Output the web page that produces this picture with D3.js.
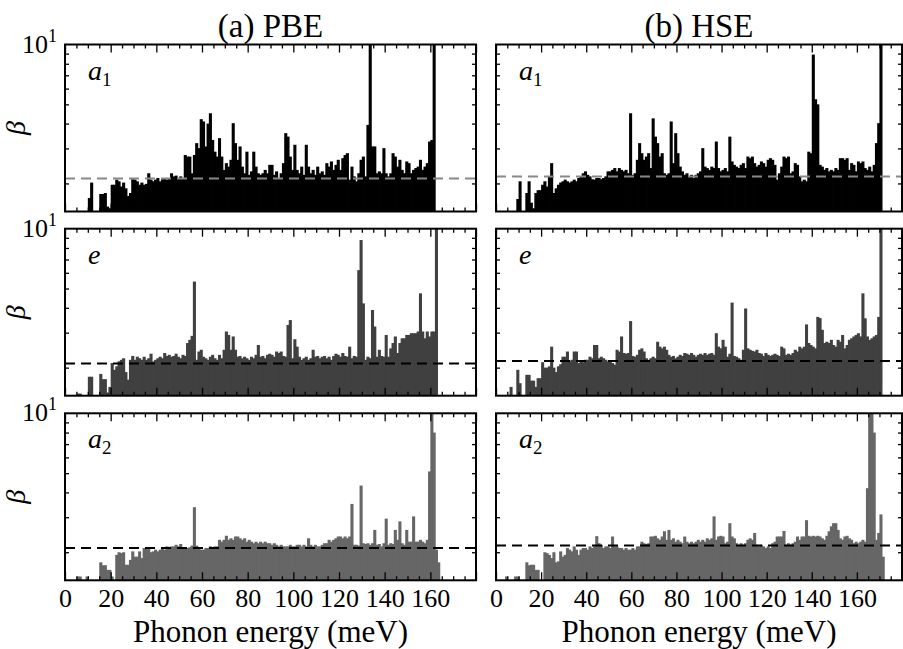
<!DOCTYPE html>
<html>
<head>
<meta charset="utf-8">
<script src="https://cdn.jsdelivr.net/npm/d3@7"></script>
<style>
  body { margin: 0; background: #fff; }
  svg { display: block; }
  svg text { font-family: "Liberation Serif", "DejaVu Serif", "Noto Serif", serif; }
</style>
</head>
<body>
<svg id="chart" width="903" height="649"></svg>
<script>
// Phonon energy bins are 1 meV wide, each series starts at the given energy
const binWidth = 1;
const serifFont = '"Liberation Serif", "DejaVu Serif", serif';

// (a) PBE
const pbeA1Start = 10;
const pbeA1 = [
  1.69, 2.02, 0, 0, 0, 1.77, 1.77, 1.79, 1.53, 1.50,
  1.97, 1.97, 2.09, 2.05, 1.93, 2.02, 1.89, 1.73, 1.79, 2.10,
  2.09, 2.05, 1.97, 2.02, 1.97, 1.99, 2.25, 2.09, 2.05, 2.09,
  2.13, 2.05, 2.10, 2.13, 2.09, 2.13, 2.25, 2.17, 2.19, 2.13,
  2.17, 2.13, 2.78, 2.73, 2.73, 2.25, 2.78, 3.19, 3.01, 4.21,
  4.10, 3.07, 4.00, 4.51, 3.31, 2.89, 2.73, 3.38, 2.73, 2.34,
  2.53, 2.43, 2.63, 4.02, 3.19, 2.63, 3.07, 2.43, 2.25, 2.89,
  2.21, 2.30, 2.89, 2.43, 2.25, 2.21, 2.25, 2.34, 2.25, 2.48,
  2.48, 2.21, 2.30, 2.13, 2.25, 2.53, 3.58, 3.44, 2.73, 2.34,
  3.13, 2.34, 2.25, 2.43, 2.21, 3.13, 2.43, 2.25, 2.34, 2.21,
  2.43, 2.25, 2.30, 2.21, 2.53, 2.43, 2.58, 2.34, 2.48, 2.63,
  2.34, 2.68, 2.78, 2.84, 2.09, 2.43, 2.17, 2.05, 2.25, 2.63,
  2.73, 2.17, 3.94, 12, 3.07, 3.07, 2.25, 2.30, 2.25, 3.01,
  2.25, 2.17, 2.25, 2.84, 2.73, 2.43, 2.63, 2.34, 2.25, 2.58,
  2.53, 2.25, 2.34, 2.39, 2.43, 2.63, 2.34, 2.43, 2.53, 3.25,
  3.31, 12
];
const pbeEStart = 5;
const pbeE = [
  1.48, 1.48, 0, 0, 0,
  1.80, 1.80, 0, 0, 0, 1.86, 1.75, 1.75, 1.50, 1.60,
  2.11, 1.95, 2.03, 2.15, 2.19, 2.23, 1.90, 1.74, 2.19, 2.29,
  2.19, 2.27, 2.23, 2.19, 2.27, 2.19, 2.23, 2.35, 2.15, 2.19,
  2.23, 2.27, 2.23, 2.37, 2.29, 2.32, 2.27, 2.29, 2.35, 2.27,
  2.23, 2.32, 2.29, 2.66, 2.76, 2.89, 5.42, 2.19, 2.41, 2.46,
  2.27, 2.23, 2.19, 2.27, 2.32, 2.23, 2.19, 2.32, 2.23, 2.46,
  3.04, 2.92, 2.46, 2.87, 2.46, 2.27, 2.29, 2.23, 2.27, 2.23,
  2.19, 2.27, 2.23, 2.32, 2.60, 2.27, 2.29, 2.23, 2.32, 2.35,
  2.32, 2.27, 2.41, 2.37, 2.41, 2.29, 2.27, 3.28, 3.47, 2.23,
  2.78, 2.55, 2.27, 2.19, 2.23, 2.27, 2.19, 2.23, 2.46, 2.27,
  2.29, 2.23, 2.27, 2.29, 2.23, 2.27, 2.19, 2.29, 2.35, 2.32,
  2.27, 2.37, 2.29, 2.27, 2.55, 2.23, 2.29, 2.27, 6.19, 8.77,
  4.21, 2.19, 2.27, 2.23, 3.90, 3.22, 2.27, 2.46, 2.29, 2.27,
  2.92, 2.27, 2.50, 2.66, 2.87, 2.37, 2.66, 2.81, 2.81, 2.92,
  2.92, 2.98, 2.98, 2.98, 3.04, 4.73, 3.04, 2.81, 3.04, 2.87,
  3.04, 3.04, 12
];
const pbeA2Start = 5;
const pbeA2 = [
  1.51, 1.51, 0, 0, 1.51,
  0, 0, 0, 0, 0, 1.78, 1.72, 1.72, 1.63, 1.63,
  1.51, 0, 1.94, 2.00, 1.98, 2.00, 1.73, 1.73, 1.83, 2.02,
  1.90, 1.90, 2.02, 1.87, 2.10, 2.10, 2.10, 2.00, 2.02, 2.06,
  2.02, 2.06, 2.10, 2.06, 2.14, 2.10, 2.14, 2.14, 2.18, 2.14,
  2.20, 2.10, 2.12, 2.10, 2.12, 2.16, 3.37, 2.16, 2.10, 2.06,
  2.06, 2.10, 2.10, 2.14, 2.12, 2.14, 2.14, 2.31, 2.26, 2.31,
  2.42, 2.31, 2.35, 2.31, 2.40, 2.40, 2.35, 2.31, 2.35, 2.26,
  2.31, 2.26, 2.22, 2.26, 2.22, 2.26, 2.22, 2.26, 2.22, 2.22,
  2.18, 2.22, 2.18, 2.14, 2.18, 2.14, 2.14, 2.14, 2.18, 2.14,
  2.14, 2.18, 2.18, 2.14, 2.18, 2.14, 2.35, 2.18, 2.14, 2.18,
  2.14, 2.14, 2.18, 2.22, 2.22, 2.31, 2.26, 2.31, 2.35, 2.40,
  2.40, 2.35, 2.40, 2.35, 2.40, 3.50, 2.18, 2.18, 2.16, 4.33,
  2.22, 2.20, 2.22, 2.18, 2.22, 2.59, 2.18, 2.20, 2.14, 2.22,
  2.95, 2.18, 2.22, 2.20, 2.59, 2.31, 2.86, 2.22, 2.18, 2.59,
  2.26, 2.26, 3.03, 2.26, 2.26, 2.31, 2.26, 2.22, 2.31, 5.10,
  12, 8.00, 2.06, 1.78
];

// (b) HSE
const hseA1Start = 9;
const hseA1 = [
  1.67,
  2.05, 0, 0, 1.79, 2.05, 1.60, 1.50, 1.79, 1.85, 1.85,
  1.97, 2.05, 1.93, 2.17, 2.53, 1.79, 1.89, 1.97, 2.02, 2.05,
  2.09, 2.05, 2.02, 2.05, 2.09, 2.05, 2.13, 2.17, 2.25, 2.30,
  2.21, 2.17, 2.10, 2.09, 2.13, 2.13, 2.10, 2.13, 2.17, 2.30,
  2.30, 2.34, 2.39, 2.30, 2.39, 2.34, 2.30, 2.34, 2.25, 4.51,
  2.21, 2.25, 2.63, 3.19, 2.84, 2.63, 2.73, 2.84, 2.39, 4.25,
  3.44, 3.19, 2.73, 2.84, 2.25, 2.21, 2.25, 4.10, 2.53, 3.58,
  2.84, 2.43, 2.30, 2.21, 2.25, 2.17, 2.21, 2.13, 2.21, 2.25,
  2.30, 3.01, 2.43, 2.39, 2.34, 2.43, 2.39, 3.25, 2.39, 2.30,
  2.34, 2.39, 2.30, 3.44, 2.58, 2.48, 2.43, 2.39, 2.48, 2.53,
  2.39, 2.73, 2.68, 2.73, 2.53, 2.43, 2.48, 2.58, 2.53, 2.43,
  2.63, 2.68, 2.63, 2.48, 2.09, 2.25, 2.43, 2.73, 2.68, 2.73,
  2.25, 2.30, 2.53, 2.48, 2.17, 2.05, 2.09, 2.05, 2.89, 2.84,
  8.90, 5.30, 5.00, 2.48, 2.43, 2.34, 2.39, 2.30, 2.34, 2.30,
  2.39, 2.34, 2.68, 2.68, 2.63, 2.68, 2.34, 2.53, 2.48, 2.30,
  2.58, 2.53, 2.58, 2.39, 2.34, 2.43, 2.30, 2.48, 3.19, 4.02,
  12
];
const hseEStart = 6;
const hseE = [
  1.60, 0, 0, 1.95,
  1.67, 0, 0, 1.84, 1.84, 1.72, 1.72, 1.60, 1.77, 1.77,
  2.13, 2.00, 2.00, 2.03, 2.55, 2.00, 1.90, 2.03, 2.08, 2.27,
  2.27, 2.41, 2.15, 2.19, 2.41, 2.41, 2.11, 2.15, 2.13, 2.19,
  2.19, 2.27, 2.23, 2.60, 2.60, 2.23, 2.27, 2.23, 2.19, 2.15,
  2.15, 2.11, 2.07, 2.46, 2.41, 2.87, 2.37, 2.35, 2.37, 3.43,
  2.29, 2.27, 2.32, 2.46, 2.50, 2.41, 2.23, 2.19, 2.23, 2.27,
  2.23, 2.70, 2.55, 2.50, 2.55, 2.46, 2.32, 2.27, 2.29, 2.23,
  2.27, 2.32, 2.29, 2.37, 2.35, 2.32, 2.37, 2.32, 2.27, 2.32,
  2.35, 2.32, 2.37, 2.32, 2.35, 2.37, 2.32, 2.98, 2.55, 2.50,
  2.76, 2.55, 2.27, 2.35, 4.25, 2.29, 2.27, 2.23, 2.19, 2.46,
  3.97, 2.50, 2.46, 2.43, 2.41, 2.46, 2.37, 2.35, 2.29, 2.37,
  2.32, 2.29, 2.32, 2.35, 2.32, 2.29, 2.55, 2.50, 2.32, 2.35,
  2.32, 2.37, 2.46, 2.41, 2.55, 2.50, 2.55, 3.30, 2.66, 2.60,
  2.55, 2.50, 3.60, 3.55, 3.10, 2.66, 2.70, 2.66, 2.76, 2.60,
  2.55, 2.76, 2.70, 2.92, 2.50, 2.60, 2.76, 2.81, 2.87, 2.92,
  2.98, 2.87, 4.73, 3.54, 2.87, 2.76, 2.81, 2.87, 2.92, 3.60,
  12
];
const hseA2Start = 3;
const hseA2 = [
  0, 1.51, 0, 0, 0, 1.51, 1.51,
  0, 0, 0, 1.78, 1.72, 1.73, 1.73, 1.63, 1.63, 0,
  0, 2.00, 1.98, 1.94, 1.87, 2.00, 1.78, 1.80, 2.02, 1.90,
  1.94, 2.10, 2.06, 2.02, 2.14, 2.06, 1.94, 2.06, 2.10, 2.10,
  2.06, 2.14, 2.10, 2.14, 2.41, 2.22, 2.18, 2.10, 2.14, 2.14,
  2.10, 2.40, 2.14, 2.14, 2.10, 2.10, 2.06, 2.10, 2.06, 2.06,
  2.10, 2.06, 2.14, 2.14, 2.26, 2.22, 2.20, 2.22, 2.40, 2.40,
  2.42, 2.35, 2.31, 2.40, 2.55, 2.31, 2.59, 2.31, 2.35, 2.26,
  2.31, 2.26, 2.22, 2.40, 2.26, 2.22, 2.26, 2.22, 2.26, 2.31,
  2.26, 2.31, 2.26, 2.35, 2.31, 2.35, 3.03, 2.31, 2.40, 2.42,
  2.40, 2.22, 2.26, 2.80, 2.40, 2.35, 2.22, 2.18, 2.22, 2.18,
  2.22, 2.31, 2.35, 2.31, 2.50, 2.18, 2.14, 2.18, 2.14, 2.10,
  2.14, 2.10, 2.22, 2.26, 2.40, 2.40, 2.40, 2.56, 2.18, 2.22,
  2.18, 2.22, 2.26, 2.40, 2.31, 2.40, 2.40, 2.90, 2.42, 2.40,
  2.42, 2.40, 2.42, 2.40, 2.35, 2.31, 2.42, 2.55, 2.70, 2.80,
  2.80, 2.59, 2.35, 2.31, 2.40, 2.42, 2.35, 2.31, 2.22, 2.26,
  2.22, 2.26, 2.31, 2.26, 4.20, 12, 10.5, 8.00, 2.31, 2.50,
  3.10, 1.90
];

// Dashed reference levels per mode (rows a1, e, a2)
const pbeMean = [2.12, 2.10, 2.10];
const hseMean = [2.17, 2.16, 2.16];

// Labels
const columnTitles = ['(a) PBE', '(b) HSE'];
const modeNames = [['a', '1'], ['e', ''], ['a', '2']];
const xLabel = 'Phonon energy (meV)';
const xMajor = d3.range(0, 181, 20);
const xMinor = d3.range(0, 181, 5).filter(d => d % 20 !== 0);
const yMinor = [2, 3, 4, 5, 6, 7, 8, 9];
const yMin = 1.445, yMax = 10;

// Colours per row
const barColors = ['#000000', '#404040', '#666666'];
const dashColors = ['#888888', '#000000', '#000000'];

// Layout
const colLeft = [65, 496];
const colWidth = [411, 406];
const rowTop = [44.5, 228.7, 413.3];
const rowHeight = 167;

const svg = d3.select('#chart');

const series = [
    [[pbeA1Start, pbeA1], [pbeEStart, pbeE], [pbeA2Start, pbeA2]],
    [[hseA1Start, hseA1], [hseEStart, hseE], [hseA2Start, hseA2]]
];
const means = [pbeMean, hseMean];

const yScale = d3.scaleLog().domain([yMin, yMax]).range([rowHeight, 0]).clamp(true);

series.forEach((col, c) => {
    const xScale = d3.scaleLinear().domain([0, 180]).range([0, colWidth[c]]);
    const barW = xScale(binWidth) - xScale(0);

    // column title
    svg.append('text')
        .attr('x', colLeft[c] + colWidth[c] / 2)
        .attr('y', 37)
        .attr('text-anchor', 'middle')
        .attr('font-family', serifFont)
        .style('font-size', '33px')
        .text(columnTitles[c]);

    // x axis label
    svg.append('text')
        .attr('x', colLeft[c] + colWidth[c] / 2)
        .attr('y', 642)
        .attr('text-anchor', 'middle')
        .attr('font-family', serifFont)
        .style('font-size', '31px')
        .text(xLabel);

    col.forEach(([start, values], r) => {
        const g = svg.append('g')
            .attr('transform', `translate(${colLeft[c]},${rowTop[r]})`);

        const bins = values.map((v, i) => ({ e: start + i * binWidth, v }))
            .filter(d => d.v > yMin);

        // bars (slightly widened so neighbours join without seams)
        g.selectAll('rect.bar')
            .data(bins)
            .join('rect')
            .attr('class', 'bar')
            .attr('x', d => xScale(d.e))
            .attr('width', barW + 0.8)
            .attr('y', d => yScale(d.v))
            .attr('height', d => rowHeight - yScale(d.v))
            .attr('fill', barColors[r]);

        // dashed mean line
        g.append('line')
            .attr('x1', 0)
            .attr('x2', colWidth[c])
            .attr('y1', yScale(means[c][r]))
            .attr('y2', yScale(means[c][r]))
            .attr('stroke', dashColors[r])
            .attr('stroke-width', 2)
            .attr('stroke-dasharray', '10,6');

        // ticks on all four sides, pointing inward
        const isBottom = r === 2;
        const tickAxis = (axis, tx, ty) => {
            const a = g.append('g')
                .attr('transform', `translate(${tx},${ty})`)
                .call(axis);
            a.select('.domain').remove();
            a.selectAll('line').attr('stroke', '#000').attr('stroke-width', 1.3);
            return a;
        };
        tickAxis(d3.axisTop(xScale).tickValues(xMajor).tickSize(-8).tickFormat(''), 0, 0);
        tickAxis(d3.axisTop(xScale).tickValues(xMinor).tickSize(-4).tickFormat(''), 0, 0);
        const bottomAxis = tickAxis(d3.axisBottom(xScale).tickValues(xMajor).tickSize(-8).tickPadding(8)
            .tickFormat(d => (isBottom && d < 180) ? d : ''), 0, rowHeight);
        bottomAxis.attr('font-family', serifFont);
        bottomAxis.selectAll('text')
            .attr('fill', '#000')
            .attr('font-family', serifFont)
            .style('font-size', '26px');
        tickAxis(d3.axisBottom(xScale).tickValues(xMinor).tickSize(-4).tickFormat(''), 0, rowHeight);
        tickAxis(d3.axisLeft(yScale).tickValues(yMinor).tickSize(-4).tickFormat(''), 0, 0);
        tickAxis(d3.axisRight(yScale).tickValues(yMinor).tickSize(-4).tickFormat(''), colWidth[c], 0);

        // frame
        g.append('rect')
            .attr('width', colWidth[c])
            .attr('height', rowHeight)
            .attr('fill', 'none')
            .attr('stroke', '#000')
            .attr('stroke-width', 2);

        // mode label
        const lab = g.append('text')
            .attr('x', 23)
            .attr('y', 35)
            .attr('font-family', serifFont)
            .style('font-size', '28px')
            .style('font-style', 'italic')
            .text(modeNames[r][0]);
        if (modeNames[r][1]) {
            lab.append('tspan')
                .attr('dy', 6)
                .style('font-size', '19px')
                .style('font-style', 'normal')
                .text(modeNames[r][1]);
        }

        if (c === 0) {
            // y tick label 10^1 at the top
            const yl = g.append('text')
                .attr('x', -8)
                .attr('y', 8)
                .attr('text-anchor', 'end')
                .attr('font-family', serifFont)
                .style('font-size', '26px')
                .text('10');
            yl.append('tspan')
                .attr('dy', -11)
                .style('font-size', '18px')
                .text('1');

            // y axis label
            svg.append('text')
                .attr('transform', `translate(25,${rowTop[r] + rowHeight / 2}) rotate(-90)`)
                .attr('text-anchor', 'middle')
                .attr('font-family', serifFont)
                .style('font-size', '28px')
                .style('font-style', 'italic')
                .text('β');
        }
    });
});
</script>
</body>
</html>
